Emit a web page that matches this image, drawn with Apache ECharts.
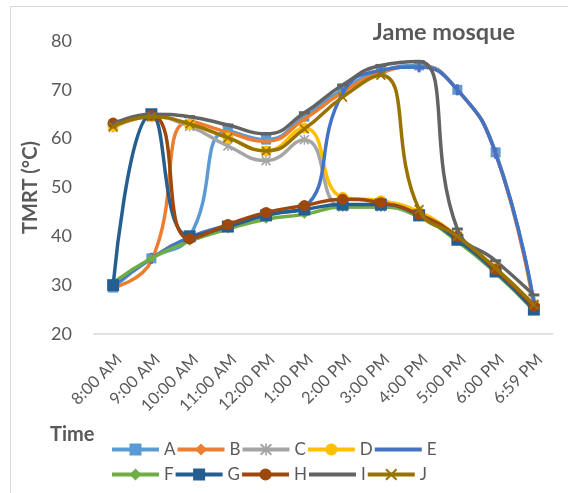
<!DOCTYPE html>
<html>
<head>
<meta charset="utf-8">
<script src="https://cdn.jsdelivr.net/npm/echarts@6/dist/echarts.min.js"></script>
<style>
html,body{margin:0;padding:0;background:#fff;}
#chart{width:568px;height:493px;}
</style>
</head>
<body>
<div id="chart"></div>
<script>
var categories = ['8:00 AM','9:00 AM','10:00 AM','11:00 AM','12:00 PM','1:00 PM','2:00 PM','3:00 PM','4:00 PM','5:00 PM','6:00 PM','6:59 PM'];
var yTicks = [20, 30, 40, 50, 60, 70, 80];
var seriesNames = ['A','B','C','D','E','F','G','H','I','J'];
var A = [29.5, 35.5, 40, 61.5, 59.8, 64.5, 70, 73.8, 75, 70, 57.2, 26];
var B = [29.5, 35, 63.5, 61.3, 59.5, 64, 69.5, 73.5, 74.8, 70, 57, 25.5];
var C = [62.3, 64.5, 62.5, 58.5, 55.5, 59.8, 46, 46, 44, 39.5, 33, 25.5];
var D = [62.5, 64.5, 63, 60.2, 57.5, 62.2, 48, 47.3, 45, 40, 33.5, 26];
var E = [30, 35.5, 39.8, 42.3, 44.5, 46, 69.3, 74, 74.7, 70, 57, 26.5];
var F = [30.5, 35.5, 39, 41.5, 43.5, 44.5, 46, 46, 44, 39, 32.5, 24.8];
var G = [30, 65, 40, 42, 44.3, 45.5, 46.5, 46.5, 44.3, 39.3, 32.8, 25];
var H = [63.2, 64.8, 39.5, 42.4, 44.9, 46.3, 47.6, 46.9, 44.5, 40, 33.2, 25.7];
var I = [63, 65, 64.5, 62.8, 61, 65.3, 71, 75, 75.8, 41.5, 35, 28];
var J = [62.5, 64.5, 63, 60.2, 57.5, 62, 68.5, 73, 45.5, 40, 33.5, 26];
var allData = [A, B, C, D, E, F, G, H, I, J];

var colors = ['#5B9BD5','#ED7D31','#A5A5A5','#FFC000','#4472C4','#70AD47','#255E91','#9E480E','#636363','#997300'];
var xPath = 'path://M0,1.2L1.2,0L5,3.8L8.8,0L10,1.2L6.2,5L10,8.8L8.8,10L5,6.2L1.2,10L0,8.8L3.8,5Z';
var starPath = 'path://M0,1.2L1.2,0L5,3.8L8.8,0L10,1.2L6.2,5L10,8.8L8.8,10L5,6.2L1.2,10L0,8.8L3.8,5ZM4.3,0L5.7,0L5.7,10L4.3,10Z';
var symbols = ['rect','diamond',starPath,'circle','rect','diamond','rect','circle','rect',xPath];
var symbolSizes = [10, 6, 10, 11, [3, 11], 9, 12, 11, [11, 3], 10];
var hiddenLegendMarker = ['E', 'I'];

var font = 'Lato, "Open Sans", sans-serif';
var txt = '#595959';

var series = seriesNames.map(function(n, i){
  return {
    name: n,
    type: 'line',
    data: allData[i],
    smooth: 0.5,
    symbol: symbols[i],
    symbolSize: symbolSizes[i],
    showAllSymbol: true,
    lineStyle: {color: colors[i], width: 3.5},
    itemStyle: {color: colors[i], borderWidth: 0},
    z: 2 + i
  };
});

function legendItems(names) {
  return names.map(function(n){
    if (hiddenLegendMarker.indexOf(n) >= 0) {
      return {name: n, itemStyle: {color: 'rgba(0,0,0,0)', borderWidth: 0}};
    }
    return {name: n};
  });
}

var chart = echarts.init(document.getElementById('chart'), null, {renderer: 'canvas'});
var legendCommon = {
  orient: 'horizontal',
  itemWidth: 47,
  itemHeight: 15,
  itemGap: 0,
  lineStyle: {width: 4},
  textStyle: {fontFamily: font, fontSize: 17, color: txt, width: 31}
};
chart.setOption({
  animation: false,
  backgroundColor: '#fff',
  color: colors,
  title: {
    text: 'Jame mosque',
    right: 48,
    top: 15,
    textStyle: {fontFamily: font, fontSize: 23.5, fontWeight: 'bold', color: txt}
  },
  grid: {left: 94, right: 15, top: 41, bottom: 159, containLabel: false},
  legend: [
    Object.assign({}, legendCommon, {left: 105, top: 436, data: legendItems(seriesNames.slice(0, 5))}),
    Object.assign({}, legendCommon, {left: 105, top: 461, data: legendItems(seriesNames.slice(5))})
  ],
  graphic: [
    {type: 'rect', shape: {x: 10.5, y: 6.5, width: 700, height: 700}, style: {fill: 'none', stroke: '#d9d9d9', lineWidth: 1}, silent: true, z: -10},
    {type: 'text', left: 50, top: 425, style: {text: 'Time', font: 'bold 20px ' + font, fill: txt}}
  ],
  xAxis: {
    type: 'category',
    data: categories,
    boundaryGap: true,
    axisLine: {lineStyle: {color: '#d9d9d9', width: 1.5}},
    axisTick: {show: false},
    axisLabel: {rotate: 45, interval: 0, margin: 17, verticalAlign: 'top', fontFamily: font, fontSize: 16.5, color: txt}
  },
  yAxis: {
    type: 'value',
    min: yTicks[0],
    max: yTicks[yTicks.length - 1],
    interval: 10,
    name: 'TMRT (°C)',
    nameLocation: 'middle',
    nameGap: 52,
    nameTextStyle: {fontFamily: font, fontSize: 20, fontWeight: 'bold', color: txt},
    axisLine: {show: false},
    axisTick: {show: false},
    splitLine: {show: false},
    axisLabel: {margin: 22, fontFamily: font, fontSize: 18, color: txt}
  },
  series: series
});
</script>
</body>
</html>
